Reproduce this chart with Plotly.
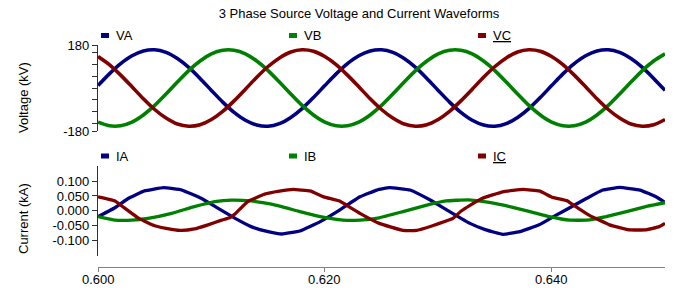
import plotly.graph_objects as go

# ---------------- data ----------------
title_text = "3 Phase Source Voltage and Current Waveforms"
volt_names = ["VA", "VB", "VC"]
curr_names = ["IA", "IB", "IC"]
colors = ["#000080", "#008000", "#800000"]

# voltage samples every 1 ms from 0.600 s to 0.650 s (kV)
t_volt_ms = list(range(51))
va = [10, 59, 102, 135, 155, 160, 149, 123, 86, 40,
      -10, -59, -102, -135, -155, -160, -149, -123, -86, -40,
      10, 59, 102, 135, 155, 160, 149, 123, 86, 40,
      -10, -59, -102, -135, -155, -160, -149, -123, -86, -40,
      10, 59, 102, 135, 155, 160, 149, 123, 86, 40, -10]
vb = [-143, -158, -158, -143, -113, -73, -25, 25, 73, 113,
      143, 158, 158, 143, 113, 73, 25, -25, -73, -113,
      -143, -158, -158, -143, -113, -73, -25, 25, 73, 113,
      143, 158, 158, 143, 113, 73, 25, -25, -73, -113,
      -143, -158, -158, -143, -113, -73, -25, 25, 73, 113, 143]
vc = [132, 98, 54, 5, -45, -90, -126, -151, -160, -154,
      -132, -98, -54, -5, 45, 90, 126, 151, 160, 154,
      132, 98, 54, 5, -45, -90, -126, -151, -160, -154,
      -132, -98, -54, -5, 45, 90, 126, 151, 160, 154,
      132, 98, 54, 5, -45, -90, -126, -151, -160, -154, -132]

# current samples (ms after 0.600 s, kA)
ia_ms = [0.0, 1.5, 2.7, 4.1, 5.8, 7.4, 9.1, 10.6, 12.1, 13.5, 15.0, 16.2, 17.8, 19.6,
         21.3, 23.1, 24.6, 25.7, 27.5, 29.3, 31.0, 32.8, 34.2, 35.7, 37.2, 38.9,
         40.4, 41.6, 43.1, 44.5, 46.0, 47.8, 49.2, 50.0]
ia = [-0.020, 0.010, 0.042, 0.067, 0.078, 0.070, 0.042, 0.008, -0.026, -0.054, -0.071,
      -0.079, -0.069, -0.037, 0.002, 0.047, 0.070, 0.078, 0.070, 0.036, -0.003, -0.043,
      -0.065, -0.080, -0.071, -0.048, -0.015, 0.010, 0.042, 0.070, 0.079, 0.070, 0.047, 0.028]
ib_ms = [0.0, 1.5, 3.0, 4.4, 6.5, 8.5, 10.3, 11.8, 13.5, 15.3, 17.8, 19.6, 21.6, 23.1,
         24.8, 26.9, 29.0, 30.7, 32.6, 34.5, 36.3, 38.1, 39.8, 41.6, 43.1, 44.8, 46.6,
         48.3, 50.0]
ib = [-0.020, -0.032, -0.032, -0.026, -0.009, 0.014, 0.031, 0.036, 0.033, 0.022, -0.003,
      -0.020, -0.032, -0.032, -0.024, -0.003, 0.019, 0.033, 0.037, 0.028, 0.014, -0.003,
      -0.020, -0.032, -0.032, -0.020, -0.003, 0.014, 0.027]
ic_ms = [0.0, 1.5, 2.1, 3.6, 5.0, 6.5, 7.4, 8.5, 9.7, 10.9, 11.6, 12.1, 13.2, 14.7, 16.0,
         17.2, 18.7, 19.9, 21.3, 21.9, 23.1, 24.8, 26.9, 28.1, 29.5, 30.7, 31.3, 32.0,
         32.8, 33.9, 35.7, 37.5, 38.9, 40.1, 41.4, 42.0, 43.3, 45.1, 46.9, 48.3, 49.5, 50.0]
ic = [0.047, 0.033, 0.016, -0.026, -0.051, -0.063, -0.067, -0.062, -0.048, -0.032, -0.024,
      -0.010, 0.031, 0.056, 0.066, 0.072, 0.067, 0.047, 0.033, 0.019, -0.009, -0.043,
      -0.067, -0.067, -0.051, -0.035, -0.026, -0.002, 0.018, 0.042, 0.064, 0.072, 0.067,
      0.045, 0.033, 0.017, -0.015, -0.048, -0.065, -0.065, -0.054, -0.043]

t0 = 0.600
x_ticks = [0.600, 0.620, 0.640]
v_ticks = [-180, 180]
v_minor = [-150, -100, -50, 0, 50, 100, 150]
i_ticks = [-0.100, -0.050, 0.000, 0.050, 0.100]

# ---------------- layout helpers ----------------
W, H = 686, 288
L, R, T, B = 98, 21, 45, 21
PW, PH = W - L - R, H - T - B
FONT = "Liberation Sans, Arial, sans-serif"


def px(x):
    return (x - L) / PW


def py(y):
    return (H - B - y) / PH


def secs(ms_list):
    return [t0 + m / 1000.0 for m in ms_list]


fig = go.Figure()
for name, vals, col in zip(volt_names, [va, vb, vc], colors):
    fig.add_trace(go.Scatter(x=secs(t_volt_ms), y=vals, name=name, mode="lines",
                             line=dict(color=col, width=3.6, shape="spline", smoothing=0.8),
                             xaxis="x2", yaxis="y2", showlegend=False, hoverinfo="skip"))
for name, tms, vals, col in zip(curr_names, [ia_ms, ib_ms, ic_ms], [ia, ib, ic], colors):
    fig.add_trace(go.Scatter(x=secs(tms), y=vals, name=name, mode="lines",
                             line=dict(color=col, width=3.3, shape="spline", smoothing=0.3),
                             xaxis="x", yaxis="y", showlegend=False, hoverinfo="skip"))

tickfont = dict(family=FONT, size=13, color="#000000")

fig.update_layout(
    width=W, height=H,
    margin=dict(l=L, r=R, t=T, b=B, pad=0, autoexpand=False),
    paper_bgcolor="white", plot_bgcolor="white",
    font=dict(family=FONT, size=13, color="#000000"),
    title=dict(text=title_text, x=359 / W, xref="container", xanchor="center",
               y=1 - 13.5 / H, yref="container", yanchor="middle", automargin=False,
               font=dict(family=FONT, size=13, color="#000000")),
    xaxis=dict(domain=[0, 1], anchor="free", position=0, range=[0.6, 0.65],
               tickvals=x_ticks, showticklabels=False,
               showline=True, linecolor="#808080", linewidth=1.3,
               ticks="outside", ticklen=4, tickcolor="#808080", tickwidth=1.3,
               showgrid=False, zeroline=False, automargin=False),
    xaxis2=dict(domain=[0, 1], anchor="y2", matches="x", range=[0.6, 0.65], visible=False),
    yaxis=dict(domain=[py(256), py(166)], anchor="x", range=[-0.1536, 0.1515],
               tickvals=i_ticks, ticktext=[f"{v:.3f}" for v in i_ticks],
               showline=True, linecolor="#303030", linewidth=1.3,
               ticks="outside", ticklen=5, tickcolor="#303030", tickwidth=1.3,
               showgrid=False, zeroline=False, tickfont=tickfont, automargin=False),
    yaxis2=dict(domain=[py(131), py(45)], anchor="x2", range=[-180, 180],
                tickvals=v_ticks, ticktext=[str(v) for v in v_ticks],
                minor=dict(tickvals=v_minor, ticks="outside", ticklen=5,
                           tickcolor="#303030", tickwidth=1.3),
                showline=True, linecolor="#303030", linewidth=1.3,
                ticks="outside", ticklen=5, tickcolor="#303030", tickwidth=1.3,
                showgrid=False, zeroline=False, tickfont=tickfont, automargin=False),
)

annotations = [
    dict(text="Voltage (kV)", x=px(23), y=py(98), xref="paper", yref="paper",
         xanchor="center", yanchor="middle",
         textangle=-90, showarrow=False, font=dict(family=FONT, size=13, color="#000")),
    dict(text="Current (kA)", x=px(23), y=py(219), xref="paper", yref="paper",
         xanchor="center", yanchor="middle",
         textangle=-90, showarrow=False, font=dict(family=FONT, size=13, color="#000")),
]
# x tick labels placed at their data positions
for v in x_ticks:
    annotations.append(dict(text=f"{v:.3f}", x=v, xref="x", y=py(279), yref="paper",
                            xanchor="center", yanchor="middle", showarrow=False,
                            borderpad=0, font=tickfont))
shapes = []
legend_x = [101, 289, 478]
for names, ycen in [(volt_names, 35.5), (curr_names, 156)]:
    for i, (nm, col, lx) in enumerate(zip(names, colors, legend_x)):
        shapes.append(dict(type="rect", xref="paper", yref="paper",
                           x0=px(lx), x1=px(lx + 8), y0=py(ycen + 2.5), y1=py(ycen - 2.5),
                           fillcolor=col, line=dict(width=0)))
        label = nm if i < 2 else f"<span style='text-decoration:underline'>{nm}</span>"
        annotations.append(dict(text=label, x=px(lx + 13), y=py(ycen), xref="paper",
                                yref="paper", xanchor="left", yanchor="middle",
                                showarrow=False,
                                font=dict(family=FONT, size=13, color="#000")))
fig.update_layout(annotations=annotations, shapes=shapes)

fig.write_html("out.html", config={"displayModeBar": False},
               post_script="document.body.style.margin='0';document.body.style.overflow='hidden';")
